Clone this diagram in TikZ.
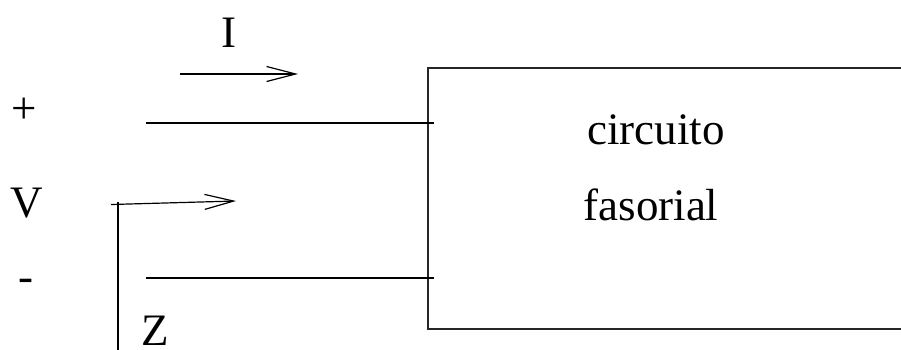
\documentclass[tikz,border=0pt]{standalone}
\usepackage{fontspec}
\setmainfont{Liberation Serif}
\usetikzlibrary{arrows.meta}
\begin{document}
\begin{tikzpicture}[x=1pt,y=-1pt,
  lbl/.style={inner sep=0pt,anchor=base,font=\fontsize{45}{54}\selectfont},
  wire/.style={line width=1.2pt},
  boxline/.style={line width=1.5pt,draw=black!85},
  arr/.style={line width=1.2pt,-{Straight Barb[length=29pt,width=15pt,line width=1.2pt]}}]
\useasboundingbox (0,0) rectangle (901,349);
\clip (0,0) rectangle (901,349);
% box (open on the right, extends past the edge)
\coordinate (btr) at (910,68);
\coordinate (btl) at (428,68);
\coordinate (bbl) at (428,329);
\coordinate (bbr) at (910,329);
\draw[boxline] (btr) -- (btl) -- (bbl) -- (bbr);
% labels
\node[lbl] (I) at (229,47) {I};
\node[lbl] (plus) at (24,123) {+};
\node[lbl] (V) at (27,217) {V};
\node[lbl] (minus) at (26,291) {-};
\node[lbl] (Z) at (155,345) {Z};
\node[lbl] (c1) at (656,144) {circuito};
\node[lbl] (c2) at (651,220) {fasorial};
% wires
\coordinate (t1) at (146,123);
\coordinate (t2) at (434,123);
\coordinate (b1) at (146,278);
\coordinate (b2) at (434,278);
\draw[wire] (t1) -- (t2);
\draw[wire] (b1) -- (b2);
% current arrow
\coordinate (ia) at (180,74);
\coordinate (ib) at (298,74);
\draw[arr] (ia) -- (ib);
% impedance arrow
\coordinate (za) at (111,204.5);
\coordinate (zb) at (236,201);
\coordinate (zc) at (118,202);
\coordinate (zd) at (118,352);
\draw[arr] (za) -- (zb);
\draw[wire] (zc) -- (zd);
\end{tikzpicture}
\end{document}
